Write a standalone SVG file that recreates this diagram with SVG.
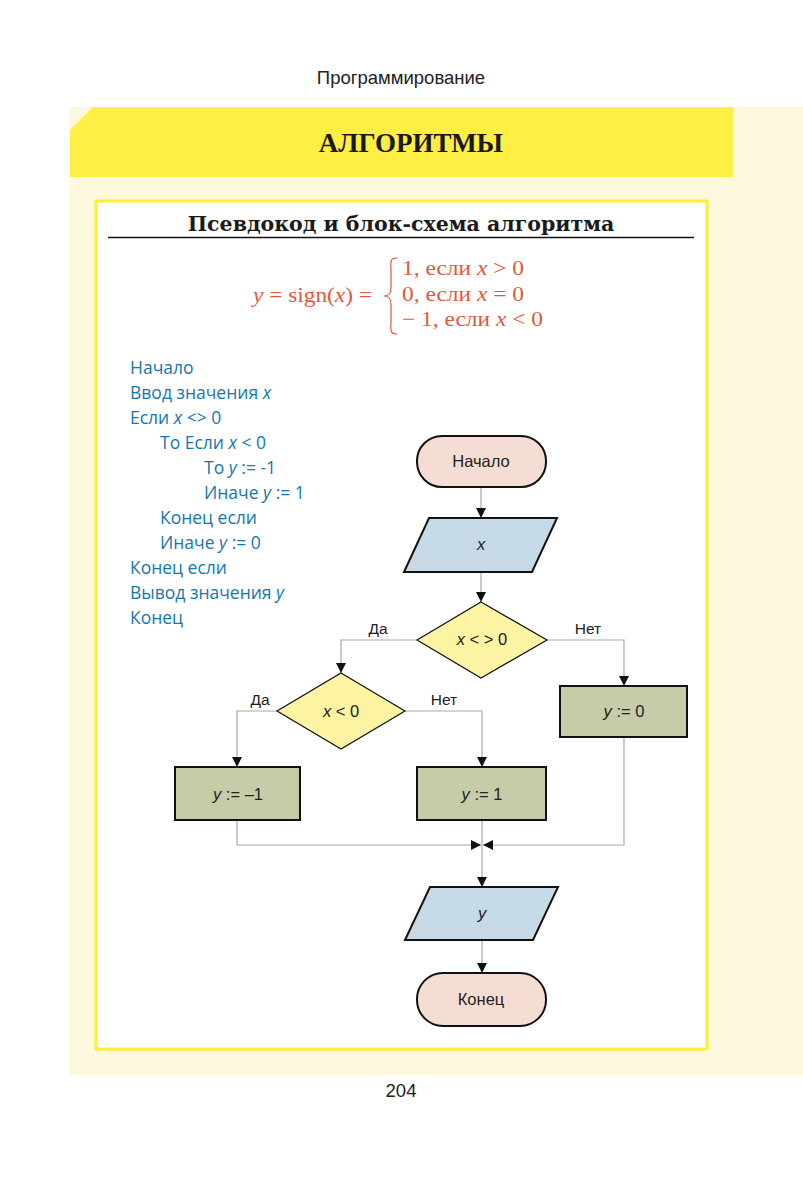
<svg xmlns="http://www.w3.org/2000/svg" width="803" height="1181" viewBox="0 0 803 1181">
<defs>
<marker id="arr" markerUnits="userSpaceOnUse" markerWidth="10" markerHeight="12" viewBox="0 0 10 12" refX="10" refY="6" orient="auto">
<path d="M0,1 L10,6 L0,11 Z" fill="#111"/>
</marker>
<style>
.hdr{font-family:"Liberation Sans",Arial,sans-serif;fill:#222}
.node-t{fill:#F5DDD3;stroke:#111;stroke-width:2}
.node-io{fill:#C6D9E7;stroke:#111;stroke-width:2}
.node-d{fill:#FCF3A3;stroke:#111;stroke-width:1.2}
.node-p{fill:#C6CCA8;stroke:#111;stroke-width:2}
.nt{font-family:"Liberation Sans",Arial,sans-serif;font-size:16.5px;fill:#222;text-anchor:middle}
.lbl{font-family:"Liberation Sans",Arial,sans-serif;font-size:15.5px;fill:#222;text-anchor:middle}
.conn path{fill:none;stroke:#A8A8A8;stroke-width:1.2}
.code{font-family:"Open Sans","Noto Sans",sans-serif;font-size:17.5px;font-weight:500;fill:#1477AE}
.f{font-family:"Liberation Serif","DejaVu Serif",serif;font-size:21px;fill:#E2583C}
.i{font-style:italic}
</style>
</defs>
<rect x="0" y="0" width="803" height="1181" fill="#FFFFFF"/>
<text class="hdr" x="401" y="84" font-size="18.5" text-anchor="middle">Программирование</text>
<rect x="70" y="107" width="733" height="968" fill="#FEF9DC"/>
<path d="M93,107 H733 V177 H70 V130 Z" fill="#FFEE44"/>
<text x="411" y="152" font-family="'Liberation Serif','Times New Roman',serif" font-weight="bold" font-size="27" fill="#1a1a1a" text-anchor="middle">АЛГОРИТМЫ</text>
<rect x="96" y="201" width="611" height="848" fill="#FFFFFF" stroke="#FFEE33" stroke-width="3"/>
<text x="401" y="231" font-family="'DejaVu Serif','Liberation Serif',serif" font-weight="bold" font-size="20.5" fill="#1a1a1a" text-anchor="middle">Псевдокод и блок-схема алгоритма</text>
<line x1="108" y1="237.5" x2="694" y2="237.5" stroke="#111" stroke-width="1.5"/>
<g id="formula">
<text class="f" x="253" y="302" textLength="119" lengthAdjust="spacingAndGlyphs"><tspan class="i">y</tspan> = sign(<tspan class="i">x</tspan>) =</text>
<path d="M397,258 C389,258 391,263 391,271 L391,288 C391,294 389,296 384,296 C389,296 391,298 391,304 L391,321 C391,329 389,334 397,334" fill="none" stroke="#E2583C" stroke-width="1.2"/>
<text class="f" x="402" y="275" textLength="122" lengthAdjust="spacingAndGlyphs">1, если <tspan class="i">x</tspan> &gt; 0</text>
<text class="f" x="402" y="301" textLength="122" lengthAdjust="spacingAndGlyphs">0, если <tspan class="i">x</tspan> = 0</text>
<text class="f" x="402" y="326" textLength="141" lengthAdjust="spacingAndGlyphs">− 1, если <tspan class="i">x</tspan> &lt; 0</text>
</g>
<g id="pseudocode" class="code">
<text x="130" y="374">Начало</text>
<text x="130" y="399">Ввод значения <tspan class="i">x</tspan></text>
<text x="130" y="424">Если <tspan class="i">x</tspan> &lt;&gt; 0</text>
<text x="160" y="449">То Если <tspan class="i">x</tspan> &lt; 0</text>
<text x="204" y="474">То <tspan class="i">y</tspan> := -1</text>
<text x="204" y="499">Иначе <tspan class="i">y</tspan> := 1</text>
<text x="160" y="524">Конец если</text>
<text x="160" y="549">Иначе <tspan class="i">y</tspan> := 0</text>
<text x="130" y="574">Конец если</text>
<text x="130" y="599">Вывод значения <tspan class="i">y</tspan></text>
<text x="130" y="624">Конец</text>
</g>
<g id="connectors" class="conn">
<path d="M481,487 V518" marker-end="url(#arr)"/>
<path d="M481,572 V602" marker-end="url(#arr)"/>
<path d="M417,640 H341 V673" marker-end="url(#arr)"/>
<path d="M547,640 H624 V686" marker-end="url(#arr)"/>
<path d="M277,711 H237 V767" marker-end="url(#arr)"/>
<path d="M405,711 H482 V767" marker-end="url(#arr)"/>
<path d="M237,820 V845 H481" marker-end="url(#arr)"/>
<path d="M624,737 V845 H483" marker-end="url(#arr)"/>
<path d="M482,820 V887" marker-end="url(#arr)"/>
<path d="M482,940 V973" marker-end="url(#arr)"/>
</g>
<g id="labels">
<text class="lbl" x="378" y="634">Да</text>
<text class="lbl" x="588" y="634">Нет</text>
<text class="lbl" x="260" y="705">Да</text>
<text class="lbl" x="444" y="705">Нет</text>
</g>
<g id="start">
<rect class="node-t" x="417" y="436" width="129" height="51" rx="25"/>
<text class="nt" x="481" y="467">Начало</text>
</g>
<g id="input">
<path class="node-io" d="M429,518 H557 L532,572 H404 Z"/>
<text class="nt i" x="481" y="550">x</text>
</g>
<g id="cond1">
<path class="node-d" d="M481,602 L547,640 L481,678 L417,640 Z"/>
<text class="nt" x="482" y="645"><tspan class="i">x</tspan> &lt; &gt; 0</text>
</g>
<g id="cond2">
<path class="node-d" d="M341,673 L405,711 L341,749 L277,711 Z"/>
<text class="nt" x="341" y="717"><tspan class="i">x</tspan> &lt; 0</text>
</g>
<g id="neg">
<rect class="node-p" x="175" y="767" width="125" height="53"/>
<text class="nt" x="238" y="800"><tspan class="i">y</tspan> := –1</text>
</g>
<g id="pos">
<rect class="node-p" x="417" y="767" width="129" height="53"/>
<text class="nt" x="482" y="800"><tspan class="i">y</tspan> := 1</text>
</g>
<g id="zero">
<rect class="node-p" x="560" y="686" width="127" height="51"/>
<text class="nt" x="624" y="717"><tspan class="i">y</tspan> := 0</text>
</g>
<g id="output">
<path class="node-io" d="M430,887 H558 L533,940 H405 Z"/>
<text class="nt i" x="482" y="919">y</text>
</g>
<g id="end">
<rect class="node-t" x="417" y="973" width="129" height="53" rx="26"/>
<text class="nt" x="481" y="1005">Конец</text>
</g>
<text class="hdr" x="401" y="1097" font-size="18.5" text-anchor="middle">204</text>
</svg>
